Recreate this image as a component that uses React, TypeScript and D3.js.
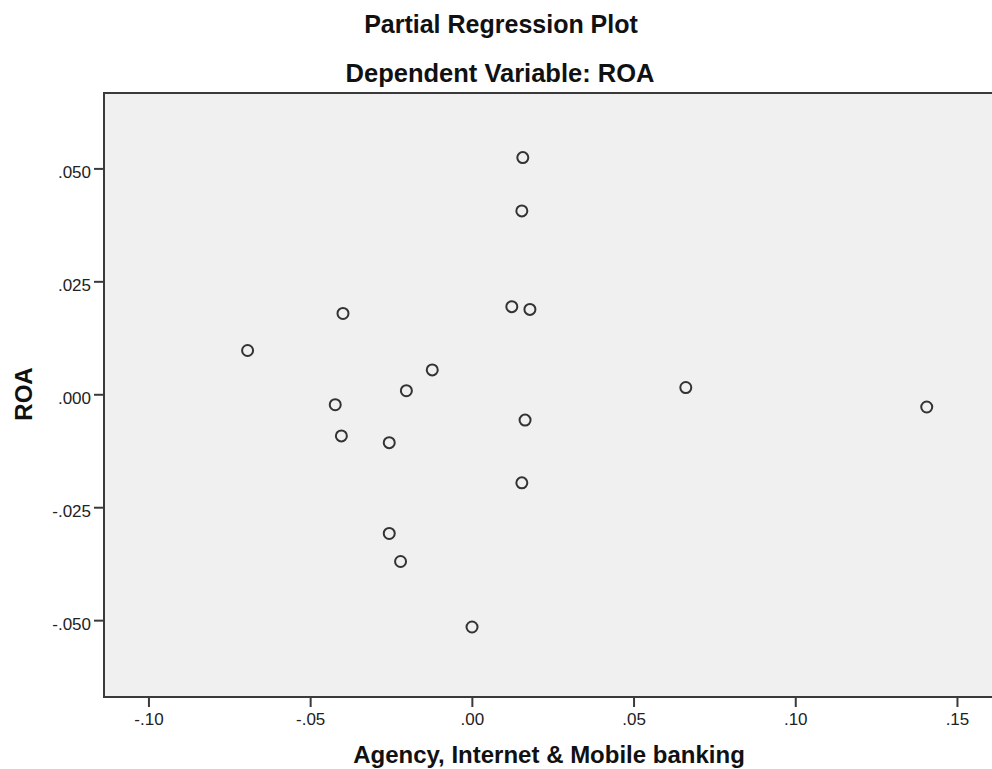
import React, { useEffect, useRef } from 'react';
import * as d3 from 'd3';

// partial regression residuals
const xValues = [-0.0695, -0.04, -0.0424, -0.0405, -0.0257, -0.0204, -0.0124, -0.0257, -0.0222, -0.0001,
  0.0156, 0.0153, 0.0122, 0.0178, 0.0163, 0.0153, 0.066, 0.1405];
const yValues = [0.0098, 0.018, -0.0022, -0.0091, -0.0106, 0.0009, 0.0055, -0.0307, -0.0369, -0.0514,
  0.0525, 0.0407, 0.0195, 0.0189, -0.0056, -0.0195, 0.0016, -0.0027];

const xTicks = [-0.1, -0.05, 0, 0.05, 0.1, 0.15];
const yTicks = [-0.05, -0.025, 0, 0.025, 0.05];

const title = 'Partial Regression Plot';
const subtitle = 'Dependent Variable: ROA';
const xLabel = 'Agency, Internet & Mobile banking';
const yLabel = 'ROA';

const FONT = '"Liberation Sans", Arial, sans-serif';

function App() {
  const svgRef = useRef<SVGSVGElement>(null);

  useEffect(() => {
    const svg = d3.select(svgRef.current);
    svg.selectAll('*').remove();

    const left = 104, top = 93, right = 994, bottom = 697;

    const x = d3.scaleLinear().domain([-0.1139, 0.1613]).range([left, right]);
    const y = d3.scaleLinear().domain([-0.0669, 0.0668]).range([bottom, top]);

    // SPSS style: no leading zero, plain hyphen for minus
    const fmt = (f: string) => (v: number) =>
      d3.format(f)(v).replace('\u2212', '-').replace('0.', '.');

    // plot background + frame
    svg.append('rect')
      .attr('x', left)
      .attr('y', top)
      .attr('width', right - left + 20)
      .attr('height', bottom - top)
      .attr('fill', '#f0f0f0')
      .attr('stroke', '#3a3a3a')
      .attr('stroke-width', 2);

    // y ticks
    const yg = svg.append('g');
    yTicks.forEach(t => {
      yg.append('line')
        .attr('x1', left - 10).attr('x2', left)
        .attr('y1', y(t)).attr('y2', y(t))
        .attr('stroke', '#3a3a3a').attr('stroke-width', 2);
      yg.append('text')
        .attr('x', left - 13)
        .attr('y', y(t) + 9.5)
        .attr('text-anchor', 'end')
        .attr('font-size', 17)
        .attr('font-family', FONT)
        .attr('fill', '#222')
        .text(fmt('.3f')(t));
    });

    // x ticks
    const xg = svg.append('g');
    xTicks.forEach(t => {
      xg.append('line')
        .attr('x1', x(t)).attr('x2', x(t))
        .attr('y1', bottom).attr('y2', bottom + 10)
        .attr('stroke', '#3a3a3a').attr('stroke-width', 2);
      xg.append('text')
        .attr('x', x(t))
        .attr('y', 725)
        .attr('text-anchor', 'middle')
        .attr('font-size', 17)
        .attr('font-family', FONT)
        .attr('fill', '#222')
        .text(fmt('.2f')(t));
    });

    // points
    svg.append('g')
      .selectAll('circle')
      .data(xValues.map((v, i) => [v, yValues[i]]))
      .enter().append('circle')
      .attr('cx', d => x(d[0]))
      .attr('cy', d => y(d[1]))
      .attr('r', 5.5)
      .attr('fill', 'none')
      .attr('stroke', '#333')
      .attr('stroke-width', 2);

    // titles and axis labels
    svg.append('text')
      .attr('x', 501).attr('y', 33)
      .attr('text-anchor', 'middle')
      .attr('font-size', 25).attr('font-weight', 'bold').attr('font-family', FONT)
      .attr('fill', '#111')
      .text(title);
    svg.append('text')
      .attr('x', 500).attr('y', 82)
      .attr('text-anchor', 'middle')
      .attr('font-size', 25.5).attr('font-weight', 'bold').attr('font-family', FONT)
      .attr('fill', '#111')
      .text(subtitle);
    svg.append('text')
      .attr('x', 549).attr('y', 763)
      .attr('text-anchor', 'middle')
      .attr('font-size', 24).attr('font-weight', 'bold').attr('font-family', FONT)
      .attr('fill', '#111')
      .text(xLabel);
    svg.append('text')
      .attr('transform', 'translate(32,394) rotate(-90)')
      .attr('text-anchor', 'middle')
      .attr('font-size', 24).attr('font-weight', 'bold').attr('font-family', FONT)
      .attr('fill', '#111')
      .text(yLabel);
  }, []);

  return (
    <svg ref={svgRef} width="992" height="769"
      style={{ position: 'absolute', left: 0, top: 0, background: '#fff' }}></svg>
  );
}

export default App;
